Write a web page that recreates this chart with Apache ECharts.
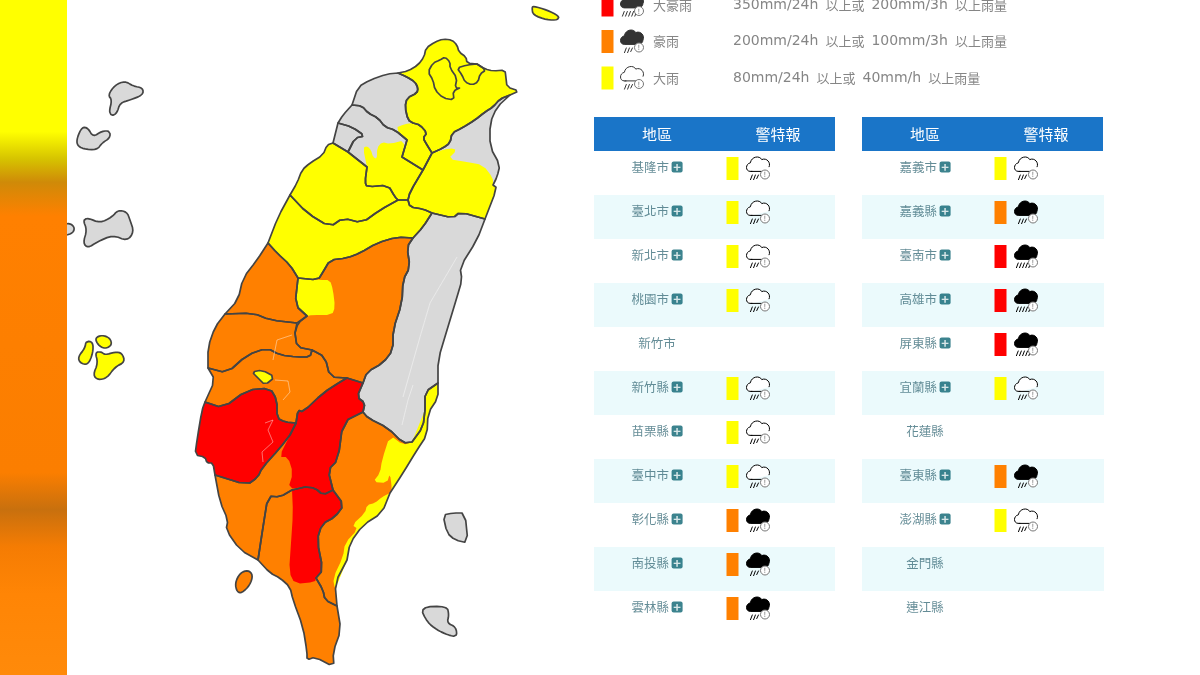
<!DOCTYPE html>
<html>
<head>
<meta charset="utf-8">
<script src="https://cdn.jsdelivr.net/npm/echarts@6/dist/echarts.min.js"></script>
<style>
  html, body { margin: 0; padding: 0; background: #fff; }
  #chart { width: 1200px; height: 675px; }
</style>
</head>
<body>
<div id="chart"></div>
<script>
// warning levels: 0 none, 1 大雨, 2 豪雨, 3 大豪雨
const levelColors = ['#d9d9d9', '#ffff00', '#ff8000', '#ff0000'];

const legendNames = ['大豪雨', '豪雨', '大雨'];
const legendRows = [0, 1, 2];
const legendLevels = [3, 2, 1];
const legendRules = [
  '350mm/24h 以上或 200mm/3h 以上雨量',
  '200mm/24h 以上或 100mm/3h 以上雨量',
  '80mm/24h 以上或 40mm/h 以上雨量'
];

const tableHeaders = ['地區', '警特報'];
const leftNames = ['基隆市', '臺北市', '新北市', '桃園市', '新竹市', '新竹縣', '苗栗縣', '臺中市', '彰化縣', '南投縣', '雲林縣'];
const leftLevels = [1, 1, 1, 1, 0, 1, 1, 1, 2, 2, 2];
const rightNames = ['嘉義市', '嘉義縣', '臺南市', '高雄市', '屏東縣', '宜蘭縣', '花蓮縣', '臺東縣', '澎湖縣', '金門縣', '連江縣'];
const rightLevels = [1, 2, 3, 3, 3, 1, 0, 2, 1, 0, 0];

// outlines of the counties, in map units: [name, level, ring]
const counties = [
  ['新北市', 1, [[398,73],[408,71],[418,65],[424,57],[426,48],[435,42],[443,39],[452,40],[457,45],[459,52],[466,57],[467,63],[477,64],[485,69],[493,71],[505,70],[506,78],[507,87],[519,91],[510,95],[500,99],[493,107],[485,112],[475,120],[462,128],[452,133],[450,143],[443,148],[432,153],[427,145],[423,138],[427,133],[420,125],[413,123],[408,120],[405,107],[407,98],[417,93],[418,88],[415,82],[407,77]]],
  ['臺北市', 1, [[445,57],[450,62],[450,68],[457,78],[455,88],[461,88],[453,91],[454,100],[443,98],[435,90],[433,80],[428,72],[433,63],[440,60]]],
  ['基隆市', 1, [[457,68],[467,65],[477,64],[486,70],[480,74],[478,82],[472,85],[465,82],[462,75]]],
  ['桃園市', 0, [[352,105],[358,87],[370,80],[387,74],[398,73],[407,77],[415,82],[418,88],[417,93],[407,98],[405,107],[408,120],[413,123],[420,125],[427,133],[423,138],[427,145],[432,153],[423,170],[402,157],[407,140],[395,130],[385,127],[378,118],[368,113],[362,106]]],
  ['新竹縣', 0, [[338,123],[343,115],[352,105],[362,106],[368,113],[378,118],[385,127],[395,130],[407,140],[402,157],[423,170],[410,192],[408,200],[398,200],[395,197],[388,185],[367,187],[365,182],[367,167],[348,152],[355,138],[365,136],[352,127]]],
  ['新竹市', 0, [[338,123],[352,127],[365,136],[355,138],[348,152],[333,143],[335,135]]],
  ['苗栗縣', 1, [[290,195],[297,183],[302,170],[310,163],[323,155],[327,145],[333,143],[348,152],[367,167],[365,182],[367,187],[388,185],[395,197],[398,200],[380,210],[362,223],[343,218],[330,227],[307,213]]],
  ['臺中市', 1, [[290,195],[307,213],[330,227],[343,218],[362,223],[380,210],[398,200],[408,200],[410,207],[423,209],[432,213],[423,227],[413,238],[397,237],[377,243],[360,253],[347,258],[330,260],[323,272],[318,280],[298,278],[290,265],[277,253],[268,243],[278,217]]],
  ['宜蘭縣', 0, [[432,153],[443,148],[450,143],[452,133],[462,128],[475,120],[485,112],[493,107],[500,99],[510,95],[497,107],[490,123],[490,147],[500,165],[497,177],[493,185],[497,188],[485,219],[460,212],[453,218],[432,213],[423,209],[410,207],[408,200],[410,192],[423,170]]],
  ['花蓮縣', 0, [[432,213],[453,218],[460,212],[485,219],[477,240],[460,267],[462,280],[457,297],[447,330],[438,360],[438,383],[425,392],[425,410],[423,427],[412,442],[403,443],[388,428],[368,418],[363,412],[365,403],[357,397],[363,383],[367,372],[383,363],[393,350],[393,330],[402,303],[403,280],[410,267],[407,247],[413,238],[423,227]]],
  ['彰化縣', 2, [[268,243],[277,253],[290,265],[298,278],[295,305],[307,316],[297,323],[270,320],[253,313],[225,314],[238,300],[243,278],[257,260]]],
  ['南投縣', 2, [[318,280],[323,272],[330,260],[347,258],[360,253],[377,243],[397,237],[413,238],[407,247],[410,267],[403,280],[402,303],[393,330],[393,350],[383,363],[367,372],[363,383],[347,378],[330,377],[325,357],[312,350],[297,347],[295,333],[298,323],[307,316],[295,305],[298,278]]],
  ['雲林縣', 2, [[225,314],[253,313],[270,320],[297,323],[295,333],[297,347],[312,350],[310,357],[297,357],[280,355],[267,348],[247,355],[227,373],[208,368],[208,347],[215,327]]],
  ['嘉義縣', 2, [[208,368],[227,373],[247,355],[267,348],[280,355],[297,357],[310,357],[312,350],[325,357],[330,377],[347,378],[340,382],[323,393],[303,412],[298,410],[296,423],[285,422],[277,418],[277,400],[270,388],[247,390],[223,408],[205,402],[215,380]]],
  ['嘉義市', 1, [[252,372],[262,370],[275,377],[265,385],[258,378]]],
  ['臺南市', 3, [[205,402],[223,408],[247,390],[270,388],[277,400],[277,418],[285,422],[296,423],[290,435],[280,448],[262,468],[258,477],[247,485],[215,475],[213,463],[207,463],[205,457],[195,455],[197,440],[202,410]]],
  ['高雄市', 2, [[298,410],[303,412],[323,393],[340,382],[347,378],[363,383],[357,397],[365,403],[363,412],[343,422],[338,460],[328,470],[333,490],[323,495],[315,488],[305,487],[292,490],[280,497],[268,496],[263,527],[258,560],[240,550],[226,530],[228,520],[220,502],[215,475],[247,485],[258,477],[262,468],[280,448],[290,435],[296,423]]],
  ['屏東縣', 2, [[268,496],[280,497],[292,490],[305,487],[315,488],[323,495],[333,490],[344,505],[335,517],[322,524],[317,540],[323,570],[316,578],[323,590],[325,600],[337,606],[341,630],[333,652],[334,667],[315,657],[307,660],[307,652],[303,627],[293,600],[290,587],[280,578],[270,573],[258,560],[263,527]]],
  ['臺東縣', 2, [[363,412],[368,418],[388,428],[403,443],[412,442],[423,427],[425,410],[425,392],[438,383],[438,398],[428,413],[427,435],[417,450],[403,473],[390,493],[382,513],[363,525],[350,543],[347,560],[335,583],[337,606],[325,600],[323,590],[316,578],[323,570],[317,540],[322,524],[335,517],[344,505],[333,490],[328,470],[338,460],[343,422]]],
  ['彭佳嶼', 1, [[532,8],[533,6],[547,10],[559,16],[558,20],[547,20],[533,15]]],
  ['澎湖一', 0, [[108,95],[115,85],[125,81],[133,86],[143,88],[143,95],[130,100],[120,103],[117,113],[112,116],[109,112],[112,100]]],
  ['澎湖二', 0, [[77,138],[82,127],[88,128],[93,137],[102,131],[110,131],[110,138],[102,143],[97,150],[83,149],[77,145]]],
  ['金門', 0, [[83,220],[88,218],[100,223],[112,217],[118,210],[127,212],[130,220],[134,232],[127,241],[113,235],[97,242],[88,248],[83,243],[87,230]]],
  ['烈嶼', 0, [[60,225],[70,223],[75,228],[72,234],[60,236]]],
  ['馬祖一', 1, [[86,341],[93,342],[93,353],[88,365],[80,363],[78,357],[85,348]]],
  ['馬祖二', 1, [[95,338],[102,335],[110,338],[112,345],[105,349],[98,345]]],
  ['馬祖三', 1, [[102,352],[105,355],[115,352],[122,353],[125,362],[115,367],[107,378],[98,380],[93,375],[98,363],[95,352]]],
  ['小琉球', 2, [[235,583],[240,573],[248,570],[253,575],[250,585],[242,593],[237,592]]],
  ['綠島', 0, [[443,515],[453,513],[465,513],[468,543],[455,540],[447,533]]],
  ['蘭嶼', 0, [[420,607],[447,606],[449,615],[447,623],[456,627],[457,637],[448,635],[437,630],[427,622]]]
];
const islandNames = ['彭佳嶼', '澎湖一', '澎湖二', '金門', '烈嶼', '馬祖一', '馬祖二', '馬祖三', '小琉球', '蘭嶼'];

// parts of a county under another warning, no outline of their own
const patches = [
  ['桃園南', 1, [[395,128],[405,124],[413,123],[420,125],[427,133],[423,138],[427,145],[432,153],[423,170],[402,157],[407,140]]],
  ['新竹南', 1, [[363,148],[367,146],[371,150],[373,157],[377,159],[377,148],[382,142],[390,144],[405,140],[402,157],[423,170],[410,192],[408,200],[398,200],[395,197],[388,185],[367,187],[365,182],[367,167]]],
  ['宜蘭南', 1, [[432,153],[450,148],[457,150],[448,159],[467,162],[483,165],[493,178],[493,185],[497,188],[485,219],[460,212],[453,218],[432,213],[423,209],[410,207],[408,200],[410,192],[423,170]]],
  ['南投西', 1, [[298,278],[320,280],[330,280],[333,290],[335,307],[332,315],[312,315],[307,316],[295,305]]],
  ['高雄北', 3, [[298,410],[303,412],[323,393],[340,382],[347,378],[363,383],[357,397],[365,403],[363,412],[343,422],[338,460],[328,470],[333,490],[323,495],[315,488],[305,487],[288,489],[293,473],[288,457],[279,457],[290,435],[296,423]]],
  ['屏東北', 3, [[292,490],[305,487],[315,488],[323,495],[333,490],[344,505],[335,517],[322,524],[317,540],[323,570],[316,578],[315,582],[295,584],[289,572],[291,543],[293,513]]],
  ['臺東北', 1, [[438,383],[425,392],[425,410],[412,442],[403,445],[390,435],[382,460],[380,473],[373,482],[387,483],[390,473],[392,490],[390,493],[403,473],[417,450],[427,435],[428,413],[438,398]]],
  ['臺東南', 1, [[390,493],[382,497],[375,503],[367,505],[365,513],[352,525],[358,529],[345,543],[343,557],[333,578],[335,590],[347,560],[350,543],[363,525],[382,513]]]
];

// faint township lines, open paths
const faintLines = [
  ['嘉義線', [[275,380],[288,381],[290,392],[283,400]]],
  ['臺南線', [[265,423],[273,420],[268,430],[273,442],[262,452],[263,462]]],
  ['雲林線', [[292,335],[277,340],[273,360]]],
  ['花蓮線一', [[457,257],[430,303],[420,337],[403,397]]],
  ['花蓮線二', [[413,385],[408,400],[402,425]]]
];

const cloudFull = 'M5 15C0 15 0 8 5 7C6 1 14 0 16 4C21 2 25 7 23 11C23 13 21 15 19 15Z';
const cloudOpen = 'M7 15H5C0 15 0 8 5 7C6 1 14 0 16 4C21 2 25 7 23 11M5 15H17';
const rainLight = 'M7 18L5 23M10 18L8 23M13 18L11 22';
const rainHeavy = 'M5 18L3 23M8 18L6 23M11 18L9 23M14 18L12 23M17 18L15 23';
const icons = {
  1: 'path://' + cloudOpen + rainLight,
  2: 'path://' + cloudFull + rainLight,
  3: 'path://' + cloudFull + rainHeavy
};

const font = '"Noto Sans CJK TC", "Noto Sans", sans-serif';
const flat = {project: p => p, unproject: p => p};

// vertices where three or more borders meet stay put when the rings are rounded
function findJunctions(list) {
  const neighbours = {};
  list.forEach(([, , ring]) => ring.forEach((p, i) => {
    const key = p.join();
    neighbours[key] = neighbours[key] || new Set();
    neighbours[key].add(ring[(i + 1) % ring.length].join());
    neighbours[key].add(ring[(i + ring.length - 1) % ring.length].join());
  }));
  return new Set(Object.keys(neighbours).filter(k => neighbours[k].size > 2));
}

const allShapes = counties.concat(patches);
const junctions = findJunctions(allShapes);

function roundRing(ring) {
  const out = [];
  ring.forEach((p, i) => {
    if (junctions.has(p.join())) {
      out.push(p);
      return;
    }
    const a = ring[(i + ring.length - 1) % ring.length];
    const b = ring[(i + 1) % ring.length];
    out.push([p[0] * 0.75 + a[0] * 0.25, p[1] * 0.75 + a[1] * 0.25]);
    out.push([p[0] * 0.75 + b[0] * 0.25, p[1] * 0.75 + b[1] * 0.25]);
  });
  return out;
}

const rounded = {};
allShapes.forEach(([name, , ring]) => {
  rounded[name] = islandNames.includes(name) ? roundRing(roundRing(ring)) : roundRing(ring);
});

const allPoints = counties.reduce((pts, [name]) => pts.concat(rounded[name]), []);
const minX = Math.min(...allPoints.map(p => p[0]));
const minY = Math.min(...allPoints.map(p => p[1]));
const mapBox = {
  left: minX,
  top: minY,
  width: Math.max(...allPoints.map(p => p[0])) - minX,
  height: Math.max(...allPoints.map(p => p[1])) - minY
};

function toFeature(name, ring) {
  return {
    type: 'Feature',
    properties: {name: name},
    geometry: {type: 'Polygon', coordinates: [ring.concat([ring[0]])]}
  };
}

echarts.registerMap('taiwan-fill', {
  type: 'FeatureCollection',
  features: allShapes.map(([name]) => toFeature(name, rounded[name]))
});
echarts.registerMap('taiwan-line', {
  type: 'FeatureCollection',
  features: counties.map(([name]) => toFeature(name, rounded[name]))
    .concat(faintLines.map(([name, path]) => toFeature(name, path.concat(path.slice(1, -1).reverse()))))
});

function mapSeries(map, data, style) {
  return Object.assign({
    type: 'map',
    map: map,
    projection: flat,
    silent: true,
    roam: false,
    label: {show: false},
    emphasis: {disabled: true},
    select: {disabled: true},
    itemStyle: style,
    data: data
  }, mapBox);
}

function scatter(gridIndex, data, extra) {
  return Object.assign({
    type: 'scatter',
    xAxisIndex: gridIndex,
    yAxisIndex: gridIndex,
    silent: true,
    clip: false,
    animation: false,
    data: data
  }, extra);
}

// swatch, cloud and badge of one row set, dy lifts them off the band centre
function warningSeries(gridIndex, rowKeys, levels, xs, ink, dy) {
  const rows = rowKeys.map((key, i) => ({key, level: levels[i]})).filter(r => r.level > 0);
  return [
    scatter(gridIndex, rows.map(r => ({
      value: [xs.swatch, r.key],
      itemStyle: {color: levelColors[r.level], opacity: 1}
    })), {symbol: 'rect', symbolSize: [12, 23], symbolOffset: [0, dy]}),
    scatter(gridIndex, rows.map(r => ({
      value: [xs.icon, r.key],
      symbol: icons[r.level],
      itemStyle: {color: r.level === 1 ? '#fff' : ink, borderColor: ink, borderWidth: 1, opacity: 1}
    })), {symbolSize: [23, 23], symbolOffset: [0, dy]}),
    scatter(gridIndex, rows.map(r => [xs.icon, r.key]), {
      symbol: 'circle',
      symbolSize: 9,
      symbolOffset: [7, dy + 6],
      itemStyle: {color: '#fff', borderColor: '#777', borderWidth: 1, opacity: 1},
      label: {
        show: true,
        position: 'inside',
        formatter: '!',
        fontSize: 7,
        color: '#555',
        fontFamily: font
      }
    })
  ];
}

function tableSeries(gridIndex, names, levels) {
  return [
    scatter(gridIndex, names.map((name, i) => ({value: [63, name], level: levels[i]})), {
      symbolSize: 1,
      itemStyle: {color: 'transparent'},
      label: {
        show: true,
        position: 'inside',
        offset: [0, -6],
        fontFamily: font,
        formatter: p => p.data.level > 0 ? `{n|${p.value[1]}} {p|+}` : `{n|${p.value[1]}}`,
        rich: {
          n: {fontSize: 12.5, color: '#3d6f7c', fontFamily: font},
          p: {
            width: 11, height: 11, lineHeight: 11, align: 'center',
            fontSize: 13, fontWeight: 'bold', color: '#fff',
            backgroundColor: '#0b6472', borderRadius: 2
          }
        }
      }
    })
  ].concat(warningSeries(gridIndex, names, levels, {swatch: 138.5, icon: 164}, '#000', -4.5));
}

// latin and CJK runs of a legend rule are set in their own fonts
function ruleToRich(rule) {
  return rule.split(' ').map(run => run.replace(/[\x21-\x7e]+/g, m => `{a|${m}}`)
    .replace(/[^\x00-\x7e{}|a]+/g, m => `{c|${m}}`)).join('{g| }');
}

function legendSeries() {
  return [
    scatter(2, legendRows.map(row => [59, row]), {
      symbolSize: 0,
      label: {
        show: true, position: 'right', distance: 0,
        formatter: p => legendNames[p.value[1]],
        fontSize: 13, color: '#666', fontFamily: font
      }
    }),
    scatter(2, legendRows.map(row => [139, row]), {
      symbolSize: 0,
      label: {
        show: true, position: 'right', distance: 0,
        formatter: p => ruleToRich(legendRules[p.value[1]]),
        rich: {
          a: {fontSize: 14, color: '#666', fontFamily: '"DejaVu Sans", sans-serif'},
          c: {fontSize: 13, color: '#666', fontFamily: font},
          g: {width: 7, fontSize: 13}
        }
      }
    })
  ].concat(warningSeries(2, legendRows, legendLevels, {swatch: 13.5, icon: 38}, '#333', 0));
}

function headerGraphic(left) {
  return [
    {type: 'rect', left: left, top: 117, shape: {width: 241, height: 34}, style: {fill: '#1a75c8'}, silent: true},
    {type: 'text', x: left + 63, y: 134, style: {text: tableHeaders[0], fill: '#fff', font: '15px ' + font, align: 'center', verticalAlign: 'middle'}, silent: true},
    {type: 'text', x: left + 184, y: 134, style: {text: tableHeaders[1], fill: '#fff', font: '15px ' + font, align: 'center', verticalAlign: 'middle'}, silent: true}
  ];
}

function hiddenX(gridIndex, max) {
  return {gridIndex, type: 'value', min: 0, max: max, show: false};
}

function rowAxis(gridIndex, names) {
  return {
    gridIndex,
    type: 'category',
    data: names,
    inverse: true,
    axisLine: {show: false},
    axisTick: {show: false},
    axisLabel: {show: false},
    splitLine: {show: false},
    splitArea: {show: true, interval: 0, areaStyle: {color: ['#ffffff', '#ebfafc']}}
  };
}

const chart = echarts.init(document.getElementById('chart'));

chart.setOption({
  animation: false,
  backgroundColor: '#fff',
  textStyle: {fontFamily: font},
  grid: [
    {left: 594, top: 151, width: 241, height: 484},
    {left: 862, top: 151, width: 242, height: 484},
    {left: 594, top: 0, width: 510, height: 100}
  ],
  xAxis: [hiddenX(0, 241), hiddenX(1, 242), hiddenX(2, 510)],
  yAxis: [
    rowAxis(0, leftNames),
    rowAxis(1, rightNames),
    // the first legend row runs off the top of the picture
    {gridIndex: 2, type: 'value', inverse: true, min: -0.137, max: 2.603, show: false}
  ],
  graphic: {
    elements: headerGraphic(594).concat(headerGraphic(862), [{
      type: 'rect',
      left: 0,
      top: 0,
      z: 100,
      silent: true,
      shape: {width: 67, height: 675},
      style: {
        fill: new echarts.graphic.LinearGradient(0, 0, 0, 1, [
          {offset: 0, color: '#ffff00'},
          {offset: 0.195, color: '#ffff00'},
          {offset: 0.235, color: '#d6c400'},
          {offset: 0.27, color: '#cf8a08'},
          {offset: 0.32, color: '#ff8000'},
          {offset: 0.7, color: '#fb7e00'},
          {offset: 0.755, color: '#c8700e'},
          {offset: 0.81, color: '#f57c03'},
          {offset: 0.88, color: '#ff8505'},
          {offset: 1, color: '#ff8a0a'}
        ])
      }
    }])
  },
  series: [
    mapSeries('taiwan-fill', allShapes.map(([name, level]) => ({
      name, itemStyle: {areaColor: levelColors[level], borderWidth: 0}
    })), {areaColor: '#d9d9d9', borderWidth: 0}),
    mapSeries('taiwan-line', faintLines.map(([name]) => ({
      name, itemStyle: {areaColor: 'transparent', borderColor: 'rgba(255,255,255,0.4)', borderWidth: 0.6}
    })), {areaColor: 'transparent', borderColor: '#444', borderWidth: 1.7, borderJoin: 'round'})
  ].concat(tableSeries(0, leftNames, leftLevels), tableSeries(1, rightNames, rightLevels), legendSeries())
});
</script>
</body>
</html>
